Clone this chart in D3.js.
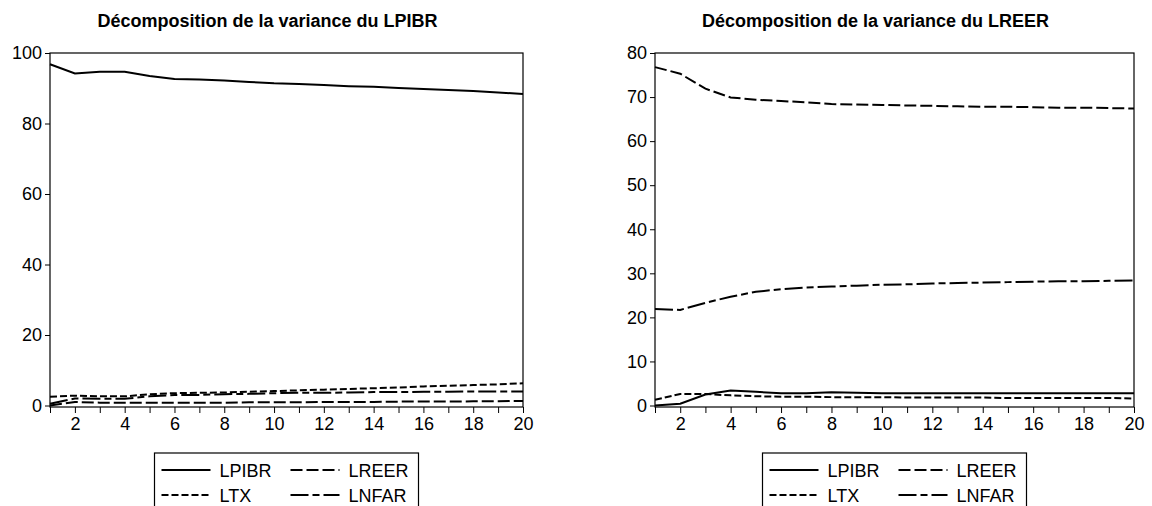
<!DOCTYPE html>
<html>
<head>
<meta charset="utf-8">
<script src="https://cdn.jsdelivr.net/npm/d3@7"></script>
<style>
body { margin: 0; background: #fff; }
svg { display: block; }
text { font-family: "Liberation Sans", Arial, sans-serif; fill: #000; }
</style>
</head>
<body>
<svg id="chart" width="1152" height="506"></svg>
<script>
// periods (horizon)
const periods = [1, 2, 3, 4, 5, 6, 7, 8, 9, 10, 11, 12, 13, 14, 15, 16, 17, 18, 19, 20];
const seriesNames = ["LPIBR", "LREER", "LTX", "LNFAR"];

// variance decomposition of LPIBR
const lpibrLPIBR = [96.8, 94.2, 94.7, 94.7, 93.5, 92.6, 92.5, 92.2, 91.8, 91.4, 91.2, 90.9, 90.6, 90.4, 90.1, 89.8, 89.5, 89.2, 88.8, 88.4];
const lpibrLREER = [0.0, 1.0, 0.8, 0.8, 0.8, 0.8, 0.8, 0.8, 0.9, 0.9, 0.9, 1.0, 1.0, 1.0, 1.1, 1.1, 1.1, 1.2, 1.2, 1.3];
const lpibrLTX = [2.5, 2.8, 2.6, 2.6, 3.2, 3.5, 3.6, 3.7, 3.9, 4.1, 4.3, 4.5, 4.7, 4.9, 5.1, 5.4, 5.6, 5.8, 6.0, 6.3];
const lpibrLNFAR = [0.5, 2.0, 1.9, 1.9, 2.6, 3.0, 3.0, 3.2, 3.3, 3.5, 3.6, 3.6, 3.7, 3.8, 3.8, 3.9, 3.9, 4.0, 4.0, 4.0];

// variance decomposition of LREER
const lreerLPIBR = [0.0, 0.4, 2.5, 3.4, 3.1, 2.8, 2.8, 3.0, 2.9, 2.8, 2.8, 2.8, 2.8, 2.8, 2.8, 2.8, 2.8, 2.8, 2.8, 2.8];
const lreerLREER = [76.8, 75.3, 71.9, 69.9, 69.4, 69.1, 68.8, 68.4, 68.3, 68.2, 68.1, 68.0, 67.9, 67.8, 67.8, 67.7, 67.6, 67.6, 67.5, 67.4];
const lreerLTX = [1.3, 2.6, 2.6, 2.3, 2.1, 2.0, 2.0, 1.9, 1.9, 1.9, 1.8, 1.8, 1.8, 1.8, 1.7, 1.7, 1.7, 1.7, 1.7, 1.6];
const lreerLNFAR = [21.9, 21.7, 23.3, 24.7, 25.8, 26.4, 26.8, 27.0, 27.2, 27.4, 27.5, 27.7, 27.8, 27.9, 28.0, 28.1, 28.2, 28.2, 28.3, 28.4];

const leftTicks = [0, 20, 40, 60, 80, 100];
const rightTicks = [0, 10, 20, 30, 40, 50, 60, 70, 80];
const xTickLabels = [2, 4, 6, 8, 10, 12, 14, 16, 18, 20];

const dashes = {
	LPIBR: null,
	LREER: "12,4",
	LTX: "7,3",
	LNFAR: "18,4,7,4",
};

const panels = [
	{
		title: "Décomposition de la variance du LPIBR",
		x0: 50, x1: 523, yMax: 100, ticks: leftTicks,
		values: [lpibrLPIBR, lpibrLREER, lpibrLTX, lpibrLNFAR],
	},
	{
		title: "Décomposition de la variance du LREER",
		x0: 655, x1: 1134, yMax: 80, ticks: rightTicks,
		values: [lreerLPIBR, lreerLREER, lreerLTX, lreerLNFAR],
	},
];

const svg = d3.select("#chart");
const plotTop = 53, zeroY = 405.5, plotBottom = 407;

panels.forEach((p) => {
	const g = svg.append("g");
	const x = d3.scaleLinear().domain([1, 20]).range([p.x0, p.x1]);
	const y = d3.scaleLinear().domain([0, p.yMax]).range([zeroY, plotTop]);

	// title, centred on the whole graph (axis labels included)
	g.append("text")
		.attr("x", (p.x0 - 38 + p.x1) / 2)
		.attr("y", 27)
		.attr("text-anchor", "middle")
		.attr("font-size", 18)
		.attr("font-weight", "bold")
		.text(p.title);

	// y axis
	const yAxis = g.append("g")
		.attr("transform", `translate(${p.x0},0)`)
		.call(d3.axisLeft(y).tickValues(p.ticks).tickSize(5).tickPadding(3));
	yAxis.select(".domain").remove();
	yAxis.selectAll("text").attr("font-size", 18).attr("font-family", null);
	yAxis.selectAll("line").attr("stroke", "#000");

	// x axis (tick at every period, label every other)
	const xAxis = g.append("g")
		.attr("transform", `translate(0,${plotBottom})`)
		.call(d3.axisBottom(x).tickValues(periods).tickSize(6).tickPadding(4)
			.tickFormat((d) => (xTickLabels.includes(d) ? d : "")));
	xAxis.select(".domain").remove();
	xAxis.selectAll("text").attr("font-size", 18).attr("font-family", null);
	xAxis.selectAll("line").attr("stroke", "#000");

	// frame
	g.append("rect")
		.attr("x", p.x0)
		.attr("y", plotTop)
		.attr("width", p.x1 - p.x0)
		.attr("height", plotBottom - plotTop)
		.attr("fill", "none")
		.attr("stroke", "#000")
		.attr("stroke-width", 1.2);

	// lines
	const line = d3.line()
		.x((d, i) => x(periods[i]))
		.y((d) => y(d));

	seriesNames.forEach((name, k) => {
		g.append("path")
			.datum(p.values[k])
			.attr("d", line)
			.attr("fill", "none")
			.attr("stroke", "#000")
			.attr("stroke-width", 2)
			.attr("stroke-dasharray", dashes[name]);
	});

	// legend
	const lw = 264;
	const lx = (p.x0 + p.x1) / 2 - lw / 2;
	const ly = 453;
	const lg = g.append("g").attr("transform", `translate(${lx},${ly})`);
	lg.append("rect")
		.attr("width", lw)
		.attr("height", 80)
		.attr("fill", "#fff")
		.attr("stroke", "#000")
		.attr("stroke-width", 1.2);

	seriesNames.forEach((name, k) => {
		const col = k % 2, row = Math.floor(k / 2);
		const cx = 7 + col * 129;
		const cy = 17 + row * 25;
		lg.append("line")
			.attr("x1", cx)
			.attr("x2", cx + 49)
			.attr("y1", cy)
			.attr("y2", cy)
			.attr("stroke", "#000")
			.attr("stroke-width", 2)
			.attr("stroke-dasharray", dashes[name]);
		lg.append("text")
			.attr("x", cx + 58)
			.attr("y", cy + 6.5)
			.attr("font-size", 18)
			.text(name);
	});
});
</script>
</body>
</html>
